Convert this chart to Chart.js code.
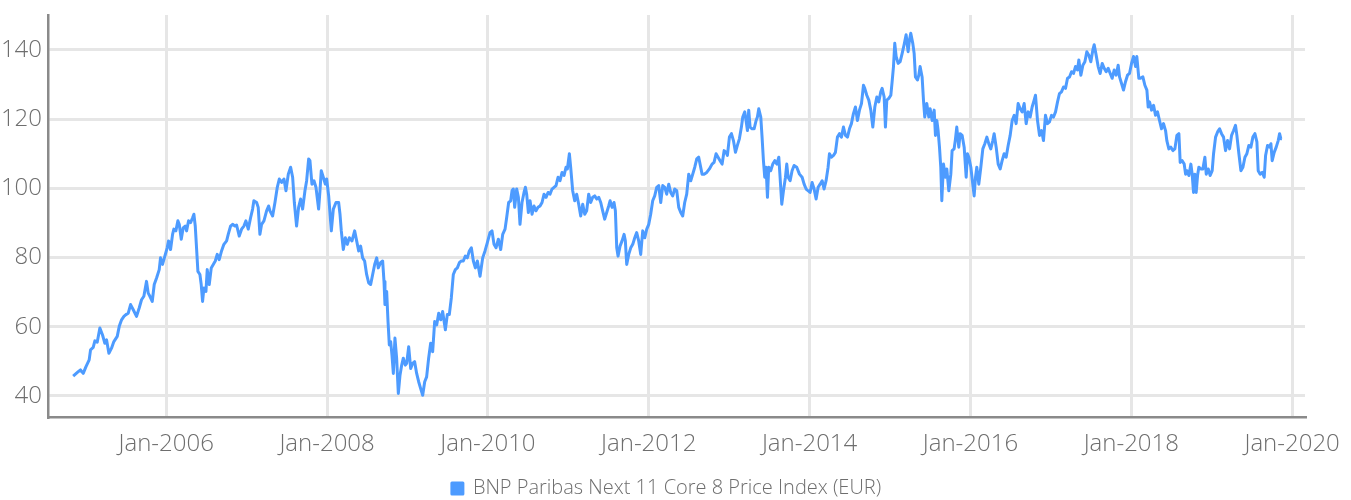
<!DOCTYPE html>
<html>
<head>
<meta charset="utf-8">
<title>BNP Paribas Next 11 Core 8 Price Index</title>
<script src="https://cdn.jsdelivr.net/npm/chart.js@4.4.1/dist/chart.umd.min.js"></script>
<style>
  html, body { margin: 0; padding: 0; background: #fff; }
  #wrap { width: 1351px; height: 500px; }
</style>
</head>
<body>
<div id="wrap"><canvas id="chart" width="1351" height="500"></canvas></div>
<script>
// data block ------------------------------------------------------------------
const seriesName = 'BNP Paribas Next 11 Core 8 Price Index (EUR)'
const yearTicks = [2006, 2008, 2010, 2012, 2014, 2016, 2018, 2020]
const priceTicks = [40, 60, 80, 100, 120, 140]

// dates as decimal years
const dates = [
  2004.843, 2004.906, 2004.934, 2004.968, 2005.001, 2005.042, 2005.059, 2005.092, 2005.113, 2005.142,
  2005.175, 2005.208, 2005.237, 2005.258, 2005.287, 2005.320, 2005.349, 2005.391, 2005.416, 2005.445,
  2005.474, 2005.499, 2005.528, 2005.557, 2005.590, 2005.631, 2005.664, 2005.693, 2005.722, 2005.755,
  2005.776, 2005.797, 2005.826, 2005.851, 2005.880, 2005.913, 2005.929, 2005.954, 2005.983, 2006.012,
  2006.029, 2006.054, 2006.079, 2006.095, 2006.120, 2006.145, 2006.162, 2006.187, 2006.211, 2006.236,
  2006.253, 2006.278, 2006.303, 2006.328, 2006.344, 2006.361, 2006.377, 2006.394, 2006.419, 2006.435,
  2006.452, 2006.469, 2006.494, 2006.510, 2006.535, 2006.560, 2006.585, 2006.610, 2006.634, 2006.659,
  2006.688, 2006.717, 2006.751, 2006.771, 2006.800, 2006.825, 2006.854, 2006.875, 2006.908, 2006.937,
  2006.966, 2006.991, 2007.020, 2007.049, 2007.074, 2007.090, 2007.124, 2007.144, 2007.165, 2007.186,
  2007.215, 2007.248, 2007.273,
  2007.290, 2007.323, 2007.352, 2007.381, 2007.406, 2007.435, 2007.464, 2007.489, 2007.518, 2007.547,
  2007.572, 2007.593, 2007.621, 2007.646, 2007.671, 2007.696, 2007.725, 2007.746, 2007.771, 2007.787,
  2007.812, 2007.837, 2007.862, 2007.895, 2007.912, 2007.928, 2007.953, 2007.978, 2007.995, 2008.020,
  2008.053, 2008.078, 2008.111, 2008.144, 2008.161, 2008.177, 2008.202, 2008.227, 2008.252, 2008.277,
  2008.310, 2008.343, 2008.368, 2008.393, 2008.417, 2008.442, 2008.467, 2008.492, 2008.517, 2008.542,
  2008.567, 2008.592, 2008.617, 2008.637, 2008.666, 2008.691, 2008.708, 2008.720, 2008.741, 2008.758,
  2008.774, 2008.791, 2008.807, 2008.824, 2008.844, 2008.865, 2008.886, 2008.907, 2008.928, 2008.948,
  2008.973, 2008.990, 2009.015, 2009.040, 2009.064, 2009.089, 2009.114, 2009.139, 2009.164, 2009.189,
  2009.214, 2009.238, 2009.263, 2009.288, 2009.313, 2009.338, 2009.363, 2009.388, 2009.413, 2009.437,
  2009.471, 2009.495, 2009.520, 2009.545, 2009.570, 2009.595, 2009.620, 2009.645, 2009.670, 2009.694,
  2009.719, 2009.744, 2009.769, 2009.794, 2009.819, 2009.844, 2009.869,
  2009.902, 2009.935, 2009.964, 2009.993, 2010.026, 2010.051, 2010.076, 2010.101, 2010.130, 2010.159,
  2010.184, 2010.213, 2010.233, 2010.258, 2010.283, 2010.300, 2010.316, 2010.333, 2010.358, 2010.379,
  2010.399, 2010.424, 2010.449, 2010.466, 2010.482, 2010.503, 2010.524, 2010.549, 2010.573, 2010.598,
  2010.623, 2010.648, 2010.673, 2010.698, 2010.723, 2010.748, 2010.772, 2010.797, 2010.822, 2010.847,
  2010.872, 2010.897, 2010.922, 2010.947, 2010.971, 2010.988, 2011.013, 2011.029, 2011.054, 2011.079,
  2011.104, 2011.129, 2011.154, 2011.179, 2011.204, 2011.228, 2011.253, 2011.278, 2011.303, 2011.328,
  2011.353, 2011.378, 2011.403, 2011.427, 2011.452, 2011.477, 2011.502, 2011.519, 2011.544, 2011.568,
  2011.585, 2011.602, 2011.618, 2011.643, 2011.668, 2011.693, 2011.709, 2011.726, 2011.751, 2011.776,
  2011.801, 2011.826, 2011.850, 2011.875, 2011.900, 2011.925, 2011.950, 2011.975, 2012.000, 2012.024,
  2012.049, 2012.074, 2012.099, 2012.124, 2012.149, 2012.174, 2012.199, 2012.223, 2012.248, 2012.273,
  2012.298, 2012.323, 2012.348, 2012.373, 2012.398, 2012.422, 2012.447, 2012.472, 2012.497, 2012.522,
  2012.547, 2012.572, 2012.597, 2012.621,
  2012.663, 2012.688, 2012.721, 2012.754, 2012.787, 2012.812, 2012.837, 2012.862, 2012.887, 2012.912,
  2012.937, 2012.961, 2012.978, 2013.003, 2013.028, 2013.053, 2013.078, 2013.102, 2013.127, 2013.152,
  2013.169, 2013.194, 2013.210, 2013.227, 2013.243, 2013.260, 2013.285, 2013.310, 2013.335, 2013.351,
  2013.368, 2013.393, 2013.409, 2013.426, 2013.442, 2013.459, 2013.476, 2013.492, 2013.517, 2013.542,
  2013.567, 2013.592, 2013.617, 2013.633, 2013.654, 2013.675, 2013.700, 2013.716, 2013.733, 2013.758,
  2013.782, 2013.807, 2013.840, 2013.874, 2013.907, 2013.932, 2013.957, 2013.981, 2014.006, 2014.031,
  2014.056, 2014.081, 2014.106, 2014.131, 2014.156, 2014.180, 2014.205, 2014.230, 2014.247, 2014.272,
  2014.297, 2014.321, 2014.346, 2014.371, 2014.396, 2014.421, 2014.446, 2014.471, 2014.496, 2014.520,
  2014.545, 2014.570, 2014.595, 2014.620, 2014.645, 2014.670, 2014.686, 2014.711, 2014.736, 2014.761,
  2014.786, 2014.811, 2014.836, 2014.860, 2014.885, 2014.902, 2014.927, 2014.943, 2014.960, 2014.985,
  2015.010, 2015.026, 2015.043, 2015.059, 2015.076, 2015.101, 2015.126, 2015.151, 2015.175, 2015.200,
  2015.225, 2015.242, 2015.258, 2015.283, 2015.300, 2015.316, 2015.341, 2015.358,
  2015.374, 2015.399, 2015.416, 2015.432, 2015.457, 2015.482, 2015.499, 2015.524, 2015.549, 2015.565,
  2015.582, 2015.598, 2015.615, 2015.631, 2015.644, 2015.665, 2015.690, 2015.706, 2015.731, 2015.756,
  2015.772, 2015.797, 2015.814, 2015.830, 2015.855, 2015.872, 2015.897, 2015.922, 2015.947, 2015.963,
  2015.980, 2016.005, 2016.029, 2016.046, 2016.063, 2016.079, 2016.104, 2016.129, 2016.154, 2016.179,
  2016.204, 2016.228, 2016.253, 2016.278, 2016.295, 2016.320, 2016.345, 2016.370, 2016.394, 2016.419,
  2016.444, 2016.469, 2016.494, 2016.519, 2016.544, 2016.568, 2016.593, 2016.618, 2016.643, 2016.668,
  2016.693, 2016.718, 2016.743, 2016.767, 2016.792, 2016.809, 2016.834, 2016.859, 2016.884, 2016.908,
  2016.933, 2016.958, 2016.983, 2017.008, 2017.033, 2017.058, 2017.083, 2017.107, 2017.132, 2017.157,
  2017.182, 2017.207, 2017.232, 2017.257, 2017.282, 2017.306, 2017.331, 2017.348, 2017.373, 2017.398,
  2017.423, 2017.447, 2017.472, 2017.497, 2017.522, 2017.539, 2017.563, 2017.588, 2017.613, 2017.638,
  2017.663, 2017.688, 2017.713, 2017.738, 2017.762, 2017.787, 2017.812, 2017.837, 2017.854, 2017.879,
  2017.903, 2017.928, 2017.953, 2017.978, 2018.003, 2018.028, 2018.053, 2018.069, 2018.094,
  2018.111, 2018.144, 2018.169, 2018.194, 2018.210, 2018.227, 2018.252, 2018.277, 2018.301, 2018.326,
  2018.351, 2018.376, 2018.401, 2018.426, 2018.442, 2018.467, 2018.492, 2018.517, 2018.542, 2018.567,
  2018.592, 2018.608, 2018.633, 2018.658, 2018.675, 2018.691, 2018.716, 2018.741, 2018.757, 2018.774,
  2018.791, 2018.807, 2018.824, 2018.840, 2018.865, 2018.890, 2018.915, 2018.932, 2018.957, 2018.981,
  2019.006, 2019.023, 2019.048, 2019.073, 2019.098, 2019.122, 2019.147, 2019.172, 2019.197, 2019.222,
  2019.247, 2019.272, 2019.296, 2019.313, 2019.338, 2019.363, 2019.388, 2019.413, 2019.437, 2019.462,
  2019.487, 2019.512, 2019.537, 2019.562, 2019.578, 2019.603, 2019.628, 2019.653, 2019.670, 2019.694,
  2019.719, 2019.736, 2019.752, 2019.777, 2019.802, 2019.827, 2019.844, 2019.860, 2019.873
]

const prices = [
  45.7, 47.0, 47.5, 46.5, 48.4, 50.4, 53.3, 54.0, 55.9, 55.5,
  59.6, 57.6, 55.2, 56.2, 52.3, 53.8, 55.7, 57.2, 60.1, 62.0,
  63.0, 63.5, 63.9, 66.4, 64.9, 63.0, 65.4, 67.8, 68.8, 73.1,
  69.7, 68.8, 67.3, 72.2, 74.1, 76.5, 79.9, 78.0, 80.4, 82.8,
  84.8, 82.3, 86.7, 88.2, 87.7, 90.6, 89.6, 85.3, 88.6, 89.1,
  87.7, 90.6, 90.1, 91.5, 92.5, 89.1, 82.8, 76.0, 75.1, 72.2,
  67.3, 71.2, 70.2, 76.5, 72.2, 77.0, 78.0, 79.0, 80.9, 79.4,
  81.9, 83.8, 84.8, 86.7, 89.1, 89.6, 89.1, 89.4, 86.2, 88.2,
  89.1, 90.6, 88.2, 91.5, 94.0, 96.4, 95.9, 94.5, 86.7, 89.6,
  90.6, 93.5, 94.9,
  93.5, 92.0, 95.9, 100.3, 102.7, 101.7, 102.7, 99.3, 104.1, 106.1,
  103.2, 95.9, 89.1, 94.5, 96.9, 94.0, 99.3, 102.2, 108.5, 108.0,
  101.2, 102.2, 100.3, 94.0, 99.3, 105.1, 103.2, 101.2, 102.7, 97.8,
  87.7, 94.0, 95.9, 95.9, 92.5, 87.7, 82.3, 85.7, 83.8, 85.7,
  84.8, 87.7, 84.8, 81.9, 83.3, 79.9, 79.0, 75.1, 72.7, 72.2,
  75.1, 78.0, 79.9, 77.0, 78.5, 79.0, 73.1, 66.4, 70.2, 61.5,
  54.7, 55.7, 51.8, 46.5, 56.7, 50.9, 40.7, 46.0, 48.9, 50.9,
  48.9, 49.4, 54.2, 47.9, 49.4, 49.9, 46.5, 44.1, 42.1, 40.2,
  44.1, 45.5, 50.9, 55.2, 52.8, 61.5, 60.5, 63.9, 62.0, 64.4,
  59.1, 63.5, 63.5, 68.3, 75.1, 76.5, 77.0, 78.5, 79.0, 79.0,
  80.4, 79.9, 81.9, 82.8, 79.0, 77.0, 79.0,
  74.6, 79.9, 81.9, 84.3, 87.2, 87.7, 83.8, 82.8, 85.3, 82.3,
  86.7, 88.2, 91.5, 95.9, 96.4, 99.3, 99.8, 94.5, 99.8, 97.4,
  89.6, 95.9, 98.8, 100.3, 98.3, 93.0, 96.4, 92.5, 94.9, 93.5,
  94.5, 94.9, 95.9, 98.3, 97.4, 98.8, 98.3, 99.8, 100.3, 100.8,
  103.2, 102.2, 104.6, 103.7, 106.1, 105.6, 110.0, 106.1, 99.3, 96.4,
  98.3, 95.4, 92.0, 95.4, 92.5, 93.5, 98.3, 95.9, 97.4, 97.8,
  96.9, 97.4, 95.9, 93.5, 91.1, 93.0, 94.9, 96.4, 94.5, 95.9,
  93.5, 82.8, 80.4, 83.3, 84.8, 86.7, 84.8, 78.0, 80.9, 82.8,
  83.8, 85.7, 87.2, 84.8, 80.9, 87.7, 85.7, 88.2, 89.6, 92.5,
  96.4, 97.8, 100.3, 100.8, 95.9, 100.8, 100.3, 98.3, 101.2, 98.8,
  97.8, 99.8, 99.3, 94.5, 93.0, 92.0, 95.9, 98.3, 104.1, 102.2,
  104.1, 106.1, 108.5, 109.0,
  104.1, 104.1, 104.6, 105.6, 107.0, 107.5, 110.0, 109.0, 108.0, 107.0,
  110.9, 110.4, 109.5, 114.8, 115.8, 113.8, 110.4, 112.4, 114.3, 117.7,
  120.6, 122.1, 119.6, 116.7, 122.6, 117.7, 117.2, 117.2, 119.6, 120.6,
  123.0, 120.6, 114.8, 108.0, 103.2, 106.1, 97.4, 106.1, 105.1, 107.0,
  108.0, 107.0, 109.0, 103.2, 95.4, 99.3, 103.2, 107.0, 103.2, 102.2,
  105.1, 106.6, 106.1, 104.1, 103.2, 101.2, 99.8, 99.3, 98.8, 101.7,
  99.8, 96.9, 100.3, 101.2, 102.2, 99.8, 102.2, 106.1, 110.0, 109.0,
  109.5, 110.4, 114.8, 115.8, 114.8, 117.7, 115.3, 114.8, 117.2, 118.7,
  121.6, 123.5, 119.6, 122.6, 124.5, 129.8, 128.9, 126.9, 125.5, 122.6,
  117.7, 123.5, 126.4, 125.0, 127.9, 128.9, 126.4, 117.7, 125.5, 126.0,
  126.9, 130.8, 135.2, 141.9, 138.1, 136.1, 136.6, 139.0, 141.5, 144.4,
  139.5, 142.9, 144.8, 141.9, 139.0, 132.2, 131.3, 132.7,
  135.2, 132.2, 125.5, 120.6, 124.5, 120.6, 123.0, 119.6, 122.6, 115.3,
  119.6, 116.7, 111.9, 106.1, 96.4, 107.0, 103.2, 105.6, 99.3, 104.1,
  110.9, 111.4, 114.3, 117.7, 111.9, 115.8, 115.3, 111.9, 103.2, 110.0,
  109.0, 106.1, 101.2, 97.8, 103.2, 106.1, 101.2, 106.1, 111.4, 112.9,
  114.8, 112.9, 111.4, 113.8, 115.8, 111.9, 107.0, 105.6, 108.0, 110.0,
  109.0, 112.4, 115.3, 119.6, 121.1, 118.7, 124.5, 123.0, 122.1, 124.5,
  118.7, 122.1, 120.6, 123.5, 125.5, 126.9, 119.6, 115.3, 116.7, 113.8,
  121.1, 118.7, 119.2, 121.1, 120.6, 122.1, 125.0, 127.4, 127.9, 129.3,
  128.9, 131.8, 132.2, 133.7, 133.2, 135.2, 134.2, 137.1, 132.7, 135.6,
  136.6, 139.5, 138.5, 136.6, 140.0, 141.5, 138.5, 135.2, 133.2, 136.1,
  134.7, 133.7, 134.7, 133.2, 131.8, 134.2, 132.7, 135.6, 132.2, 130.3,
  128.4, 130.8, 132.7, 133.2, 136.1, 138.1, 135.2, 138.1, 131.8,
  131.8, 132.2, 129.8, 128.4, 123.5, 125.0, 122.6, 124.0, 121.1, 122.1,
  119.6, 117.2, 118.7, 116.7, 113.8, 111.4, 111.9, 110.9, 111.4, 115.3,
  115.8, 107.5, 108.0, 107.0, 104.1, 105.1, 103.7, 107.0, 104.1, 98.8,
  104.1, 98.8, 103.7, 106.1, 105.6, 105.6, 109.0, 104.1, 105.6, 103.7,
  105.1, 110.0, 114.8, 116.3, 117.2, 115.8, 114.8, 110.9, 113.8, 111.4,
  115.3, 116.7, 118.2, 115.3, 110.0, 105.1, 106.1, 109.0, 110.0, 112.4,
  111.9, 114.8, 115.8, 113.4, 105.1, 104.1, 104.6, 103.2, 109.5, 112.4,
  111.9, 112.9, 108.0, 110.4, 111.9, 113.8, 115.8, 114.3, 114.3
]

// setup block -------------------------------------------------------------------
const lineColor = '#4d9bff'
const textColor = '#6e6e6e'
const axisColor = '#8a8a8a'
const gridColor = '#e6e6e6'

// light face, closest to the original
Chart.defaults.font.family = "'Open Sans', 'DejaVu Sans', sans-serif"
Chart.defaults.font.weight = '300'
Chart.defaults.font.size = 24
Chart.defaults.color = textColor

const points = dates.map((d, i) => ({ x: d, y: prices[i] }))

const chartData = {
    datasets: [{
        label: seriesName,
        data: points,
        borderColor: lineColor,
        backgroundColor: lineColor,
        borderWidth: 3,
        pointRadius: 0,
        tension: 0,
        borderJoinStyle: 'round'
    }]
}

// config block
const config = {
    type: 'line',
    data: chartData,
    options: {
        responsive: false,
        animation: false,
        layout: {
            padding: { left: 0, right: 18, top: 15, bottom: -8.5 }
        },
        scales: {
            x: {
                type: 'linear',
                min: 2004.53,
                max: 2020.16,
                border: { color: axisColor, width: 2.5 },
                grid: { color: gridColor, lineWidth: 3, drawTicks: false },
                ticks: {
                    padding: 13,
                    maxRotation: 0,
                    autoSkip: false,
                    callback: v => 'Jan-' + v
                },
                afterBuildTicks: axis => { axis.ticks = yearTicks.map(v => ({ value: v })) },
                afterFit: axis => {
                    axis.height = 57.5
                    axis.paddingLeft = 0
                    axis.paddingRight = 0
                }
            },
            y: {
                min: 33.9,
                max: 150.1,
                border: { color: axisColor, width: 2.5 },
                grid: { color: gridColor, lineWidth: 3, drawTicks: false },
                ticks: { padding: 6 },
                afterBuildTicks: axis => { axis.ticks = priceTicks.map(v => ({ value: v })) },
                afterFit: axis => {
                    axis.width = 48
                    axis.paddingTop = 0
                    axis.paddingBottom = 0
                }
            },
            // empty strip on the right, keeps the legend centred like the original
            side: {
                position: 'right',
                grid: { display: false },
                border: { display: false },
                ticks: { display: false },
                afterFit: axis => { axis.width = 28 }
            }
        },
        plugins: {
            legend: {
                position: 'bottom',
                labels: {
                    boxWidth: 11,
                    boxHeight: 11,
                    padding: 4,
                    color: textColor,
                    font: { size: 20 }
                }
            },
            tooltip: { enabled: false }
        }
    }
}

// render init block
const priceChart = new Chart(document.getElementById('chart'), config)
</script>
</body>
</html>
